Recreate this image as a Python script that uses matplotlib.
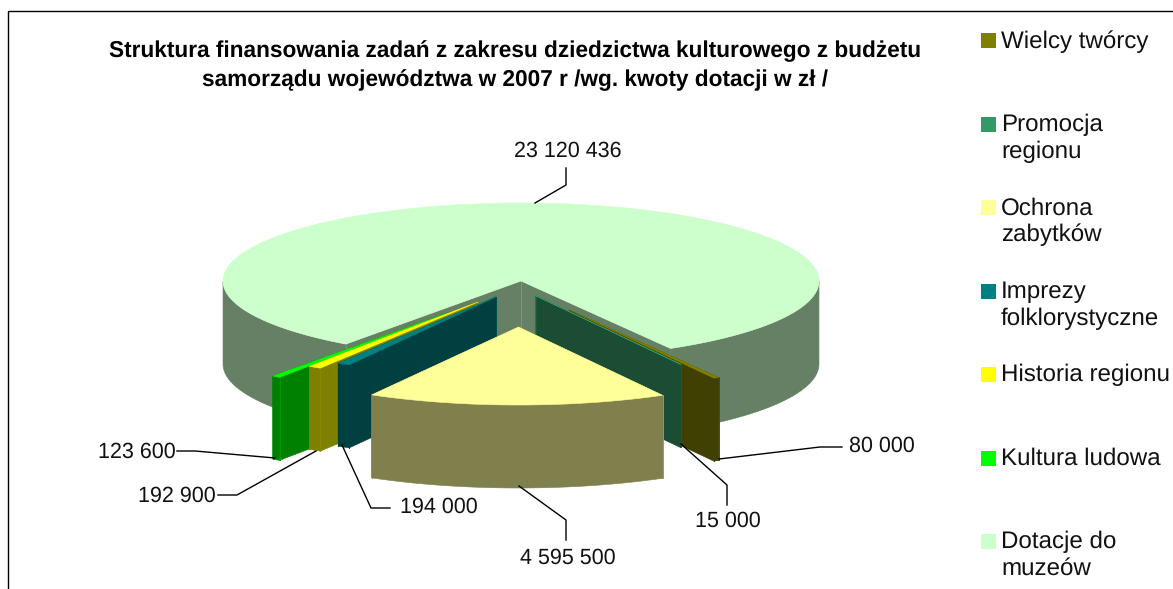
import numpy as np
import matplotlib
matplotlib.use("Agg")
import matplotlib.pyplot as plt
from matplotlib.patches import Polygon, Rectangle

plt.rcParams["font.family"] = ["Liberation Sans", "DejaVu Sans"]
plt.rcParams["text.hinting"] = "no_hinting"

title = "Struktura finansowania zadań z zakresu dziedzictwa kulturowego z budżetu\nsamorządu województwa w 2007 r /wg. kwoty dotacji w zł /"
categories = ["Wielcy twórcy", "Promocja\nregionu", "Ochrona\nzabytków", "Imprezy\nfolklorystyczne",
              "Historia regionu", "Kultura ludowa", "Dotacje do\nmuzeów"]
values = [80000, 15000, 4595500, 194000, 192900, 123600, 23120436]
colors = ["#808000", "#339966", "#FFFF99", "#008080", "#FFFF00", "#00FF00", "#CCFFCC"]

# pie geometry in pixels
rx, ry = 298, 78
depth = 83
# apex of each slice after explosion
apex = [(569, 310), (536, 296), (518.5, 327), (496, 297), (478, 302), (448, 313), (521, 281)]
draw_order = [6, 5, 4, 3, 0, 1, 2]

# slices run clockwise, Ochrona is centred on the front
shares = np.array(values) / sum(values) * 360
start = 269.7 + shares[2] / 2 + shares[1] + shares[0]
ends = start - np.cumsum(shares)
starts = ends + shares


def shade(c, k):
    r, g, b = matplotlib.colors.to_rgb(c)
    return (r * k, g * k, b * k)


fig = plt.figure(figsize=(11.73, 5.89), dpi=100)
ax = fig.add_axes([0, 0, 1, 1])
ax.set_xlim(0, 1173)
ax.set_ylim(589, 0)
ax.axis("off")

# chart frame, cut off right and bottom
ax.plot([7.5, 7.5, 1173], [589, 10.5, 10.5], color="black", lw=1.0, solid_joinstyle="miter")


def add_poly(pts, color, z):
    ax.add_patch(Polygon(pts, closed=True, facecolor=color, edgecolor=color, lw=0.4, zorder=z))


z = 2
for i in draw_order:
    ax0, ay0 = apex[i]
    a = np.radians(np.linspace(ends[i], starts[i], max(int(shares[i] * 2), 6)))
    xs = ax0 + rx * np.cos(a)
    ys = ay0 - ry * np.sin(a)
    side = shade(colors[i], 0.5)

    # radial walls first
    for k in (0, -1):
        add_poly([(ax0, ay0), (xs[k], ys[k]), (xs[k], ys[k] + depth), (ax0, ay0 + depth)], side, z)
        ax.plot([xs[k], xs[k]], [ys[k], ys[k] + depth], color=shade(colors[i], 0.6), lw=0.7, zorder=z + 0.2)
    ax.plot([ax0, ax0], [ay0, ay0 + depth], color=shade(colors[i], 0.6), lw=0.7, zorder=z + 0.2)

    # outer wall, only the parts turned to the viewer
    front = np.where(np.sin(a) < 0)[0]
    for run in np.split(front, np.where(np.diff(front) > 1)[0] + 1):
        if len(run) > 1:
            fx, fy = xs[run], ys[run]
            add_poly(list(zip(fx, fy)) + list(zip(fx[::-1], fy[::-1] + depth)), side, z + 0.4)

    # top
    add_poly([(ax0, ay0)] + list(zip(xs, ys)), colors[i], z + 0.6)
    z += 1

ax.text(515, 65.5, title, ha="center", va="center", fontsize=16.3, fontweight="bold",
        linespacing=1.46, color="black", zorder=30)

# data labels with leader lines
label_text = [f"{v:,}".replace(",", " ") for v in values]
label_pos = [(882, 446), (728, 521), (568, 558), (439, 507), (177, 496), (137, 452), (568, 151)]
leaders = [
    [(719, 459), (820, 447), (842, 447)],
    [(681, 444), (727, 485), (727, 505)],
    [(519, 486), (566, 520), (566, 540)],
    [(342, 445), (371, 508), (390, 508)],
    [(316, 451), (237, 495), (218, 495)],
    [(275, 458), (195, 451), (177, 451)],
    [(566, 168), (566, 185), (535, 203)],
]
for txt, pos, line in zip(label_text, label_pos, leaders):
    ax.plot(*zip(*line), color="black", lw=1.0, zorder=25)
    ax.text(pos[0], pos[1], txt, ha="center", va="center", fontsize=15.5, color="#111111", zorder=30)

# legend
for i, name in enumerate(categories):
    y = 33 + i * 83.5
    ax.add_patch(Rectangle((981, y), 15, 15, facecolor=colors[i], edgecolor="none", zorder=30))
    ax.text(1001, y - 3, name, ha="left", va="top", fontsize=17.4, linespacing=1.25, color="#111111", zorder=30)

fig.savefig("out.png", dpi=100)
